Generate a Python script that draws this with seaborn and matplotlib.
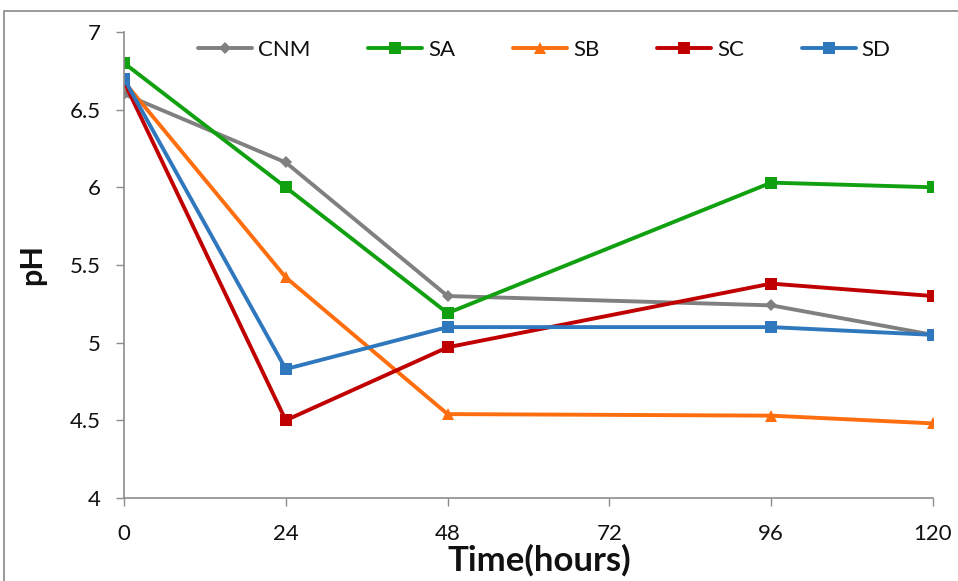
import matplotlib
matplotlib.use("Agg")
import matplotlib.pyplot as plt
import seaborn as sns
import pandas as pd
from matplotlib.patches import Rectangle

# Time points (hours) and pH readings per treatment
hours = [0, 24, 48, 96, 120]
cnm = [6.60, 6.16, 5.30, 5.24, 5.05]
sa = [6.80, 6.00, 5.19, 6.03, 6.00]
sb = [6.68, 5.42, 4.54, 4.53, 4.48]
sc = [6.68, 4.50, 4.97, 5.38, 5.30]
sd = [6.70, 4.83, 5.10, 5.10, 5.05]

series_names = ["CNM", "SA", "SB", "SC", "SD"]
series_values = [cnm, sa, sb, sc, sd]
x_ticks = [0, 24, 48, 72, 96, 120]
y_ticks = [4, 4.5, 5, 5.5, 6, 6.5, 7]
y_tick_labels = ["4", "4.5", "5", "5.5", "6", "6.5", "7"]

df = pd.DataFrame(
    [(h, v, name) for name, vals in zip(series_names, series_values) for h, v in zip(hours, vals)],
    columns=["Time", "pH", "Sample"],
)

sns.set_theme(style="white")
plt.rcParams["font.family"] = ["Lato", "DejaVu Sans"]

palette = {"CNM": "#808080", "SA": "#10a010", "SB": "#ff6e0e", "SC": "#c00000", "SD": "#2f78bd"}
markers = {"CNM": "D", "SA": "s", "SB": "^", "SC": "s", "SD": "s"}
sizes_m = {"CNM": 6.5, "SA": 9, "SB": 9, "SC": 9, "SD": 9}

fig = plt.figure(figsize=(9.58, 5.81), dpi=100)
ax = fig.add_axes([0.1294, 0.1429, 0.8445, 0.8021])

sns.lineplot(data=df, x="Time", y="pH", hue="Sample", style="Sample",
             palette=palette, markers=markers, dashes=False, ax=ax,
             linewidth=2.8, markersize=9, markeredgewidth=0, legend=False)

for line, name in zip(ax.lines, series_names):
    line.set_markersize(sizes_m[name])

ax.set_xlim(0, 120)
ax.set_ylim(4, 7)
ax.set_xticks(x_ticks)
ax.set_xticklabels([str(t) for t in x_ticks])
ax.set_yticks(y_ticks)
ax.set_yticklabels(y_tick_labels)
ax.tick_params(axis="both", labelsize=16, length=5.8, width=1, color="#8c8c8c",
               direction="out", bottom=True, left=True)
ax.tick_params(axis="x", pad=13)
ax.tick_params(axis="y", pad=11)
for t in ax.get_xticklabels() + ax.get_yticklabels():
    t.set_color("#111111")

for side in ["top", "right"]:
    ax.spines[side].set_visible(False)
for side in ["left", "bottom"]:
    ax.spines[side].set_color("#8c8c8c")
    ax.spines[side].set_linewidth(1.2)

ax.set_xlabel("Time(hours)", fontsize=25, fontweight="bold", color="#111111")
ax.xaxis.set_label_coords(0.514, -0.098)
ax.set_ylabel("pH", fontsize=22, fontweight="bold", labelpad=17, color="#111111")

# Legend built from the drawn lines
handles = []
for name in series_names:
    h, = ax.plot([], [], color=palette[name], marker=markers[name], markersize=sizes_m[name],
                 markeredgewidth=0, linewidth=2.8, label=name)
    handles.append(h)
leg = ax.legend(handles=handles, ncol=5, loc="center left",
                bbox_to_anchor=((198 - 9) / 958, 1 - 50 / 581), bbox_transform=fig.transFigure,
                frameon=False, fontsize=16, handlelength=2.43, columnspacing=2.6,
                handletextpad=0.27, borderaxespad=0, borderpad=0.4)
for t in leg.get_texts():
    t.set_color("#111111")

# Outer frame of the figure
fig.patches.append(Rectangle((4 / 958, -0.02), 1.1, (581 - 11) / 581 + 0.02,
                             transform=fig.transFigure, fill=False,
                             edgecolor="#8a8a8a", linewidth=1.2))

fig.savefig("out.png", dpi=100)
